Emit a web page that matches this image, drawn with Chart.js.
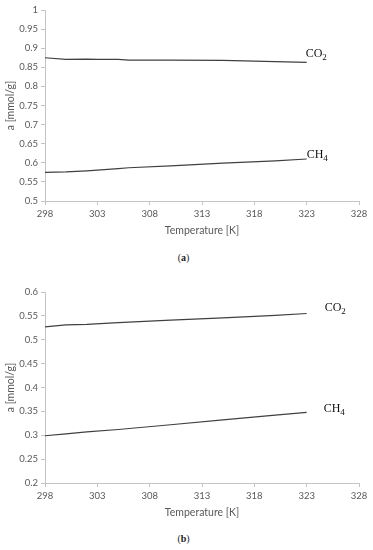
<!DOCTYPE html>
<html>
<head>
<meta charset="utf-8">
<script src="https://cdn.jsdelivr.net/npm/chart.js@4.4.1/dist/chart.umd.min.js"></script>
<style>
  body { margin: 0; background: #fff; width: 373px; height: 550px; position: relative; overflow: hidden; }
  .box { position: absolute; left: 0; width: 373px; height: 240px; }
  .cap { position: absolute; left: 0; width: 367px; text-align: center; font: 10px "Liberation Serif", serif; color: #222; }
  .cap b { font-weight: bold; }
</style>
</head>
<body>
<div class="box" style="top:0"><canvas id="chart-a"></canvas></div>
<div class="cap" style="top:252px">(<b>a</b>)</div>
<div class="box" style="top:282px"><canvas id="chart-b"></canvas></div>
<div class="cap" style="top:533px">(<b>b</b>)</div>
<script>
// Temperatures [K]
const tempsA = [298, 300, 302, 303, 305, 306, 310, 315, 320, 323];
const co2A = [0.875, 0.871, 0.8715, 0.871, 0.8708, 0.869, 0.869, 0.868, 0.865, 0.863];
const ch4A = [0.575, 0.576, 0.579, 0.581, 0.585, 0.587, 0.592, 0.599, 0.605, 0.61];

const tempsB = [298, 300, 302, 305, 310, 315, 320, 323];
const co2B = [0.527, 0.531, 0.532, 0.536, 0.541, 0.546, 0.551, 0.555];
const ch4B = [0.299, 0.303, 0.307, 0.312, 0.322, 0.332, 0.342, 0.348];

const gasNames = [["CO", "2"], ["CH", "4"]];

const axisGray = "#c4c4c4";
const textGray = "#595959";
const lineColor = "#404040";

// Draw gas name next to end of each line, with subscript
const endLabels = {
  id: "endLabels",
  afterDatasetsDraw(chart, args, opts) {
    const ctx = chart.ctx;
    ctx.save();
    ctx.fillStyle = "#111";
    ctx.textBaseline = "alphabetic";
    chart.data.datasets.forEach((ds, i) => {
      const pts = chart.getDatasetMeta(i).data;
      const last = pts[pts.length - 1];
      const off = opts.offsets[i];
      const [main, sub] = gasNames[i];
      let x = last.x + off[0];
      const y = last.y + off[1];
      ctx.font = "12px 'Liberation Serif', serif";
      ctx.fillText(main, x, y);
      x += ctx.measureText(main).width;
      ctx.font = "9px 'Liberation Serif', serif";
      ctx.fillText(sub, x, y + 3);
    });
    ctx.restore();
  }
};

function makeChart(id, temps, co2, ch4, yMin, yMax, offsets) {
  const series = [co2, ch4];
  return new Chart(document.getElementById(id), {
    type: "line",
    data: {
      datasets: series.map(vals => ({
        data: vals.map((v, i) => ({ x: temps[i], y: v })),
        borderColor: lineColor,
        borderWidth: 1.2,
        pointRadius: 0,
        tension: 0
      }))
    },
    options: {
      responsive: true,
      maintainAspectRatio: false,
      animation: false,
      layout: { padding: { left: 0, right: 14, top: 10, bottom: 0 } },
      plugins: {
        legend: { display: false },
        tooltip: { enabled: false },
        endLabels: { offsets: offsets }
      },
      scales: {
        x: {
          type: "linear",
          min: 298,
          max: 328,
          afterFit: s => { s.height = 39; },
          border: { color: axisGray },
          grid: { drawOnChartArea: false, color: axisGray, tickLength: 4 },
          ticks: { stepSize: 5, color: textGray, font: { family: "Lato", size: 9.5 }, padding: 3, maxRotation: 0 },
          title: { display: true, text: "Temperature [K]", color: textGray, font: { family: "Lato", size: 10.5 }, padding: { top: 2, bottom: 3 } }
        },
        y: {
          min: yMin,
          max: yMax,
          afterFit: s => { s.width = 45; },
          border: { color: axisGray },
          grid: { drawOnChartArea: false, color: axisGray, tickLength: 4 },
          ticks: {
            stepSize: 0.05,
            color: textGray,
            font: { family: "Lato", size: 9.5 },
            padding: 3,
            callback: v => String(Number(v.toFixed(2)))
          },
          title: { display: true, text: "a [mmol/g]", color: textGray, font: { family: "Lato", size: 10.5 }, padding: { top: 4, bottom: 4 } }
        }
      }
    },
    plugins: [endLabels]
  });
}

makeChart("chart-a", tempsA, co2A, ch4A, 0.5, 1, [[-1, -5], [0, -1]]);
makeChart("chart-b", tempsB, co2B, ch4B, 0.2, 0.6, [[18, -2], [17, 0]]);
</script>
</body>
</html>
